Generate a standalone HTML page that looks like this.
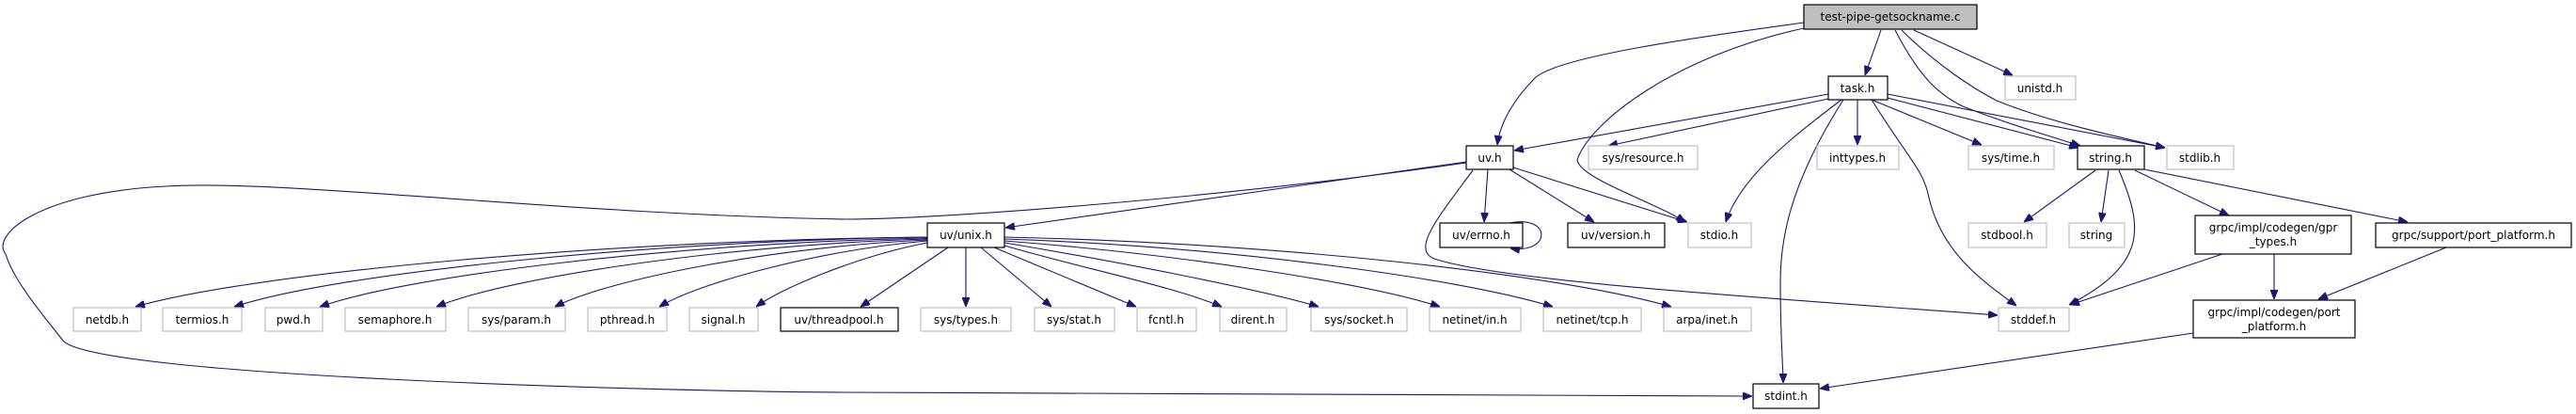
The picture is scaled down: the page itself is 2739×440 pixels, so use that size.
<!DOCTYPE html>
<html><head><meta charset="utf-8"><style>
html,body{margin:0;padding:0;background:#fff;}
svg{display:block;}
text{font-family:"DejaVu Sans","Liberation Sans",sans-serif;font-size:12px;fill:#000;}
.g{fill:#fff;stroke:#bfbfbf;stroke-width:1.2;}
.b{fill:#fff;stroke:#000;stroke-width:1.2;}
.e{fill:none;stroke:#191970;stroke-width:1.1;}
</style></head><body>
<svg width="2739" height="440" viewBox="0 0 2739 440" xmlns="http://www.w3.org/2000/svg">
<defs>
<marker id="a" viewBox="0 0 10 8" refX="10" refY="4" markerWidth="10" markerHeight="8" markerUnits="userSpaceOnUse" orient="auto">
<path d="M0,0 L10,4 L0,8 z" fill="#191970" stroke="#191970"/>
</marker>
</defs>
<g class="e" marker-end="url(#a)">
<!-- root edges -->
<path d="M1918,24 C1800,40 1660,60 1633,82 C1610,105 1595,130 1592,154"/>
<path d="M1918,30 C1780,60 1690,130 1677,170 C1680,190 1760,215 1792,236"/>
<path d="M2000,32 L1983,80"/>
<path d="M2035,32 L2140,80"/>
<path d="M2015,32 C2040,80 2060,100 2087,113 C2130,130 2180,145 2212,155"/>
<path d="M2022,32 C2060,70 2100,95 2123,107 C2180,130 2250,145 2302,157"/>
<!-- task.h edges -->
<path d="M1944,100 L1610,160"/>
<path d="M1944,105 L1710,155"/>
<path d="M1958,106 C1900,150 1850,190 1835,236"/>
<path d="M1975,106 L1975,154"/>
<path d="M1990,106 L2107,154"/>
<path d="M2007,104 L2210,157"/>
<path d="M2007,100 L2302,157"/>
<path d="M1990,106 C2030,170 2045,180 2051,210 C2065,270 2110,300 2144,325"/>
<path d="M1960,106 C1900,200 1893,260 1893,300 C1893,360 1896,390 1896,407"/>
<!-- string.h edges -->
<path d="M2228,181 L2152,236"/>
<path d="M2242,181 L2234,236"/>
<path d="M2253,181 C2278,240 2285,280 2200,324"/>
<path d="M2270,181 L2370,229"/>
<path d="M2280,180 L2560,236"/>
<!-- grpc -->
<path d="M2363,270 L2201,324"/>
<path d="M2418,270 L2418,318"/>
<path d="M2601,263 L2465,318"/>
<path d="M2332,354 L1935,413"/>
<!-- uv.h edges -->
<path d="M1559,172 L1069,242"/>
<path d="M1559,173 C1300,210 1000,233 900,233 C600,228 300,190 176,198 C40,205 -10,250 6,270 C15,300 50,340 67,362 C100,400 700,416 900,417 L1863,421"/>
<path d="M1609,178 L1794,236"/>
<path d="M1582,180 L1578,236"/>
<path d="M1605,180 L1695,236"/>
<path d="M1566,181 C1530,230 1500,265 1525,275 C1600,300 1900,318 2124,335"/>
<path d="M1605,237 C1650,228 1650,270 1606,264"/>
<!-- uv/unix.h edges -->
<path d="M986,252 C649,255 270,290 144,326"/>
<path d="M986,252 C691,256 359,290 249,326"/>
<path d="M986,253 C728,258 437,292 340,326"/>
<path d="M986,254 C777,260 542,294 464,326"/>
<path d="M986,255 C828,262 649,296 590,326"/>
<path d="M986,256 C872,266 744,300 701,326"/>
<path d="M986,258 C913,272 831,306 804,326"/>
<path d="M1008,263 L915,326"/>
<path d="M1027,263 L1027,326"/>
<path d="M1043,263 L1118,326"/>
<path d="M1057,263 L1208,326"/>
<path d="M1068,261 C1150,285 1250,305 1299,326"/>
<path d="M1068,258 C1200,280 1350,310 1402,326"/>
<path d="M1068,256 C1250,270 1450,300 1531,326"/>
<path d="M1068,254 C1300,262 1550,295 1651,326"/>
<path d="M1068,252 C1350,258 1650,290 1777,326"/>
</g>
<!-- nodes -->
<rect x="1918" y="5" width="184" height="26" fill="#bfbfbf" stroke="#000" stroke-width="1.2"/>
<text x="2010" y="22" text-anchor="middle">test-pipe-getsockname.c</text>
<rect class="b" x="1944" y="81" width="63" height="25"/><text x="1975" y="98" text-anchor="middle">task.h</text>
<rect class="g" x="2132" y="81" width="75" height="25"/><text x="2169" y="98" text-anchor="middle">unistd.h</text>
<rect class="b" x="1559" y="155" width="50" height="25"/><text x="1584" y="172" text-anchor="middle">uv.h</text>
<rect class="g" x="1689" y="155" width="116" height="25"/><text x="1747" y="172" text-anchor="middle">sys/resource.h</text>
<rect class="g" x="1932" y="155" width="87" height="25"/><text x="1975" y="172" text-anchor="middle">inttypes.h</text>
<rect class="g" x="2093" y="155" width="91" height="25"/><text x="2138" y="172" text-anchor="middle">sys/time.h</text>
<rect class="b" x="2209" y="155" width="71" height="25"/><text x="2244" y="172" text-anchor="middle">string.h</text>
<rect class="g" x="2304" y="155" width="71" height="25"/><text x="2339" y="172" text-anchor="middle">stdlib.h</text>
<rect class="b" x="986" y="237" width="82" height="26"/><text x="1027" y="254" text-anchor="middle">uv/unix.h</text>
<rect class="b" x="1531" y="237" width="88" height="26"/><text x="1575" y="254" text-anchor="middle">uv/errno.h</text>
<rect class="b" x="1667" y="237" width="103" height="26"/><text x="1718" y="254" text-anchor="middle">uv/version.h</text>
<rect class="g" x="1795" y="237" width="67" height="26"/><text x="1828" y="254" text-anchor="middle">stdio.h</text>
<rect class="g" x="2093" y="237" width="83" height="26"/><text x="2134" y="254" text-anchor="middle">stdbool.h</text>
<rect class="g" x="2200" y="237" width="59" height="26"/><text x="2229" y="254" text-anchor="middle">string</text>
<rect class="b" x="2334" y="229" width="166" height="41"/><text x="2417" y="246" text-anchor="middle">grpc/impl/codegen/gpr</text><text x="2417" y="261" text-anchor="middle">_types.h</text>
<rect class="b" x="2526" y="237" width="208" height="26"/><text x="2630" y="254" text-anchor="middle">grpc/support/port_platform.h</text>
<rect class="g" x="78" y="327" width="72" height="25"/><text x="114" y="344" text-anchor="middle">netdb.h</text>
<rect class="g" x="173" y="327" width="84" height="25"/><text x="215" y="344" text-anchor="middle">termios.h</text>
<rect class="g" x="282" y="327" width="61" height="25"/><text x="312" y="344" text-anchor="middle">pwd.h</text>
<rect class="g" x="367" y="327" width="107" height="25"/><text x="420" y="344" text-anchor="middle">semaphore.h</text>
<rect class="g" x="498" y="327" width="103" height="25"/><text x="549" y="344" text-anchor="middle">sys/param.h</text>
<rect class="g" x="625" y="327" width="84" height="25"/><text x="667" y="344" text-anchor="middle">pthread.h</text>
<rect class="g" x="733" y="327" width="73" height="25"/><text x="769" y="344" text-anchor="middle">signal.h</text>
<rect class="b" x="830" y="327" width="125" height="25"/><text x="892" y="344" text-anchor="middle">uv/threadpool.h</text>
<rect class="g" x="979" y="327" width="96" height="25"/><text x="1027" y="344" text-anchor="middle">sys/types.h</text>
<rect class="g" x="1100" y="327" width="85" height="25"/><text x="1142" y="344" text-anchor="middle">sys/stat.h</text>
<rect class="g" x="1209" y="327" width="63" height="25"/><text x="1240" y="344" text-anchor="middle">fcntl.h</text>
<rect class="g" x="1297" y="327" width="71" height="25"/><text x="1332" y="344" text-anchor="middle">dirent.h</text>
<rect class="g" x="1394" y="327" width="102" height="25"/><text x="1445" y="344" text-anchor="middle">sys/socket.h</text>
<rect class="g" x="1520" y="327" width="97" height="25"/><text x="1568" y="344" text-anchor="middle">netinet/in.h</text>
<rect class="g" x="1641" y="327" width="104" height="25"/><text x="1693" y="344" text-anchor="middle">netinet/tcp.h</text>
<rect class="g" x="1769" y="327" width="93" height="25"/><text x="1815" y="344" text-anchor="middle">arpa/inet.h</text>
<rect class="g" x="2125" y="327" width="75" height="25"/><text x="2162" y="344" text-anchor="middle">stddef.h</text>
<rect class="b" x="2332" y="319" width="172" height="40"/><text x="2418" y="336" text-anchor="middle">grpc/impl/codegen/port</text><text x="2418" y="351" text-anchor="middle">_platform.h</text>
<rect class="b" x="1864" y="408" width="70" height="26"/><text x="1899" y="425" text-anchor="middle">stdint.h</text>
</svg>
</body></html>
